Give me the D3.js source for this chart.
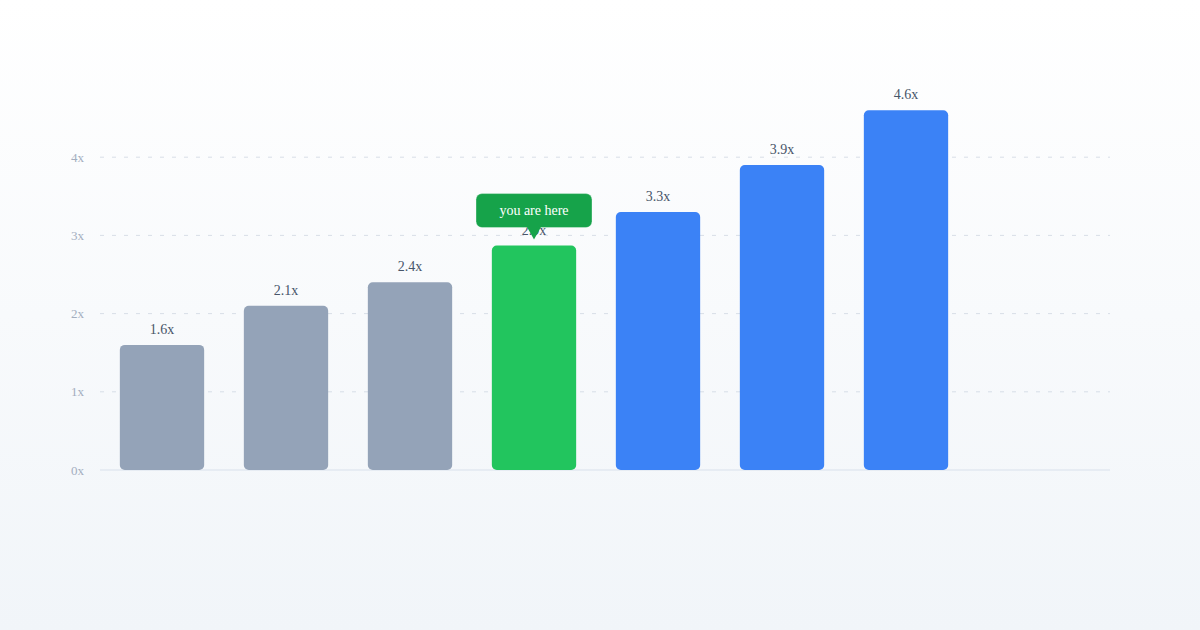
<!DOCTYPE html>
<html>
<head>
<meta charset="utf-8">
<script src="https://cdn.jsdelivr.net/npm/d3@7"></script>
<style>
  html, body { margin: 0; padding: 0; }
  body { width: 1200px; height: 630px; overflow: hidden; }
  svg { display: block; font-family: "Liberation Serif", "Times New Roman", serif; }
</style>
</head>
<body>
<svg id="chart" width="1200" height="630"></svg>
<script>
const categories = ["A", "B", "C", "D", "E", "F", "G"];
const values = [1.6, 2.1, 2.4, 2.87, 3.3, 3.9, 4.6];
const groups = ["past", "past", "past", "current", "future", "future", "future"];
const tickValues = [0, 1, 2, 3, 4];
const tickLabels = ["0x", "1x", "2x", "3x", "4x"];
const calloutText = "you are here";

const colors = { past: "#94a3b8", current: "#22c55e", future: "#3b82f6" };

const svg = d3.select("#chart");
const W = 1200, H = 630;

const defs = svg.append("defs");
const grad = defs.append("linearGradient").attr("id", "bg").attr("x1", 0).attr("y1", 0).attr("x2", 0).attr("y2", 1);
grad.append("stop").attr("offset", "0%").attr("stop-color", "#ffffff");
grad.append("stop").attr("offset", "100%").attr("stop-color", "#f1f5f9");
svg.append("rect").attr("width", W).attr("height", H).attr("fill", "url(#bg)");

const x = d3.scaleBand().domain(categories).range([100, 968]).paddingInner(0.32).paddingOuter(0.16);
const y = d3.scaleLinear().domain([0, 5]).range([470, 79]);

const gridLeft = 100, gridRight = 1110;

// grid lines
svg.append("g").selectAll("line").data(tickValues.filter(d => d > 0)).join("line")
  .attr("x1", gridLeft).attr("x2", gridRight)
  .attr("y1", d => y(d)).attr("y2", d => y(d))
  .attr("stroke", "#d8dee7").attr("stroke-width", 1)
  .attr("stroke-dasharray", "4 8");

// baseline
svg.append("line").attr("x1", gridLeft).attr("x2", gridRight)
  .attr("y1", y(0)).attr("y2", y(0))
  .attr("stroke", "#e2e8f0").attr("stroke-width", 1.5);

// y axis labels
const yAxis = d3.axisLeft(y).tickValues(tickValues).tickFormat((d, i) => tickLabels[i]).tickSize(0).tickPadding(0);
const yg = svg.append("g").attr("transform", "translate(84,0)").call(yAxis);
yg.select(".domain").remove();
yg.selectAll("text").attr("fill", "#a3aebf").attr("font-size", 13)
  .attr("font-family", "'Liberation Serif', serif");

// bars
const data = categories.map((c, i) => ({ c, v: values[i], g: groups[i] }));
svg.append("g").selectAll("rect").data(data).join("rect")
  .attr("x", d => x(d.c)).attr("width", x.bandwidth())
  .attr("y", d => y(d.v)).attr("height", d => y(0) - y(d.v))
  .attr("rx", 5).attr("ry", 5)
  .attr("fill", d => colors[d.g]);

// value labels
svg.append("g").selectAll("text").data(data).join("text")
  .attr("x", d => x(d.c) + x.bandwidth() / 2)
  .attr("y", d => y(d.v) - 11)
  .attr("text-anchor", "middle")
  .attr("font-size", 14)
  .attr("fill", "#475569")
  .text(d => d.v.toFixed(1) + "x");

// callout
const cur = data.find(d => d.g === "current");
const cx = x(cur.c) + x.bandwidth() / 2;
const boxW = 116, boxH = 34;
const tipY = y(cur.v) - 6;
const boxBottom = tipY - 12;
const cg = svg.append("g");
cg.append("rect")
  .attr("x", cx - boxW / 2).attr("y", boxBottom - boxH)
  .attr("width", boxW).attr("height", boxH)
  .attr("rx", 6).attr("ry", 6)
  .attr("fill", "#16a34a")
  .attr("stroke", "rgba(255,255,255,0.35)").attr("stroke-width", 1);
cg.append("path")
  .attr("d", `M${cx - 7},${boxBottom - 0.5} L${cx + 7},${boxBottom - 0.5} L${cx},${tipY} Z`)
  .attr("fill", "#16a34a");
cg.append("text")
  .attr("x", cx).attr("y", boxBottom - boxH / 2)
  .attr("dy", "0.35em")
  .attr("text-anchor", "middle")
  .attr("font-size", 14)
  .attr("fill", "#ffffff")
  .text(calloutText);
</script>
</body>
</html>
